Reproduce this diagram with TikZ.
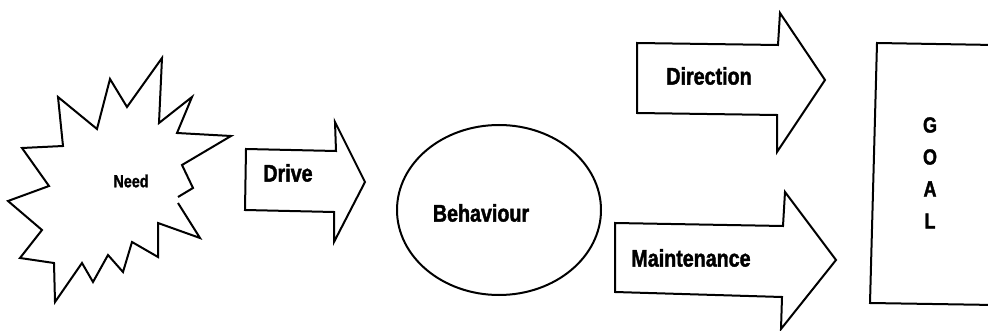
\documentclass[tikz,border=0pt]{standalone}
\usepackage{fontspec}
\newfontfamily\labelfont[FakeStretch=0.82, BoldFeatures={FakeBold=1.6}]{Liberation Sans}
\begin{document}
\begin{tikzpicture}[x=1pt,y=-1pt,
  outline/.style={draw=black, line width=2pt, line join=miter, fill=white},
  lbl/.style={font=\labelfont\bfseries\fontsize{24}{27}\selectfont, inner sep=0pt},
  smalllbl/.style={font=\labelfont\bfseries\fontsize{17.5}{20}\selectfont, inner sep=0pt},
  letter/.style={font=\labelfont\bfseries\fontsize{22}{25}\selectfont, inner sep=0pt}]
\useasboundingbox (0,0) rectangle (988,331);
\fill[white] (0,0) rectangle (988,331);

% starburst (left slightly open on its right flank)
\draw[outline] (178,203) -- (200,238) -- (158,223) -- (158,257) -- (132,242)
  -- (123,272) -- (108,255) -- (93,282) -- (82,263) -- (55,302) -- (54,263)
  -- (20,258) -- (42,230) -- (8,201) -- (49,186) -- (22,148) -- (63,146)
  -- (58,97) -- (97,129) -- (110,79) -- (127,107) -- (162,58) -- (159,123)
  -- (192,97) -- (177,133) -- (231,136) -- (182,165) -- (193,188) -- (178,197);

% block arrows
\draw[outline] (246,149) -- (336,151) -- (335,122) -- (365,182) -- (334,242)
  -- (334,212) -- (245,210) -- cycle;
\draw[outline] (637,43) -- (778,45) -- (780,13) -- (825,80) -- (777,152)
  -- (777,115) -- (637,113) -- cycle;
\draw[outline] (615,223) -- (783,226) -- (785,192) -- (836,260) -- (781,329)
  -- (782,297) -- (615,292) -- cycle;

% behaviour oval
\draw[outline] (499,210) ellipse [x radius=102, y radius=85];

% goal box, running past the right edge
\draw[outline, fill=none] (995,45) -- (877,43) -- (870,303) -- (995,305);

% labels
\node[smalllbl] (need) at (131,181) {Need};
\node[lbl] (drive) at (288,173) {Drive};
\node[lbl] (behaviour) at (481,213) {Behaviour};
\node[lbl] (direction) at (709,76) {Direction};
\node[lbl] (maintenance) at (691,258) {Maintenance};
\node[letter] (g) at (930,125) {G};
\node[letter] (o) at (930,157) {O};
\node[letter] (a) at (930,189) {A};
\node[letter] (l) at (930,221) {L};
\end{tikzpicture}
\end{document}
